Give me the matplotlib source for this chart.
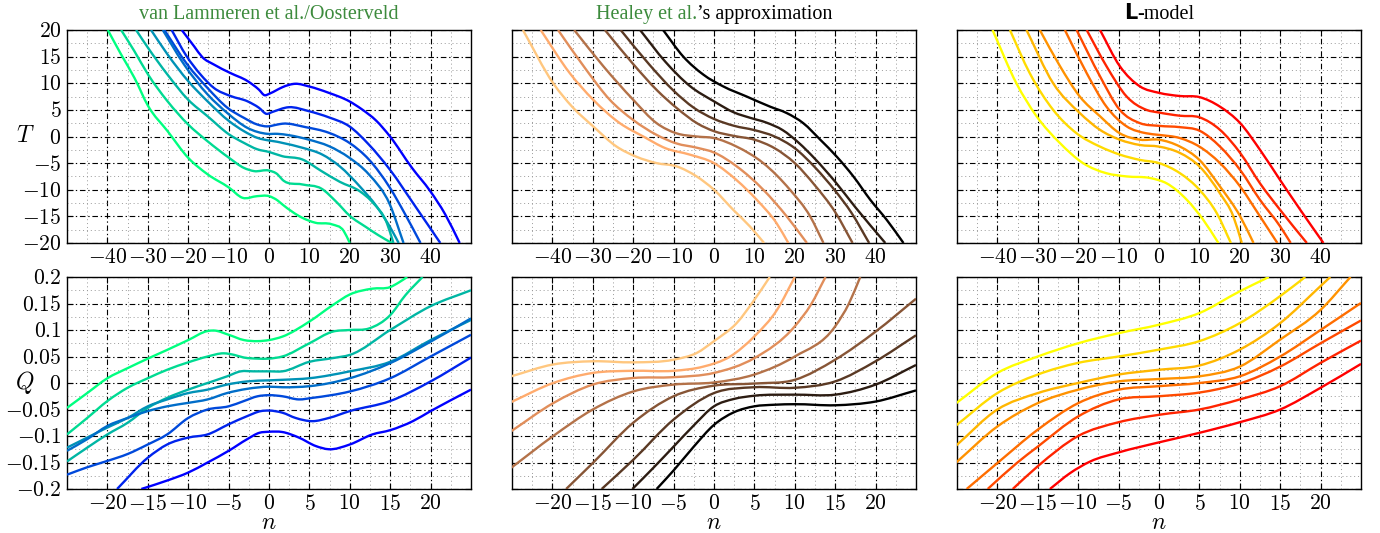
"""Three temperature/charge models side by side: T(n) on top, Q(n) below."""

import matplotlib
matplotlib.use("Agg")
import matplotlib.pyplot as plt
from matplotlib.ticker import FixedLocator, FuncFormatter
from matplotlib.offsetbox import TextArea, HPacker, AnchoredOffsetbox
from matplotlib.path import Path
from matplotlib.patches import PathPatch
import numpy as np

matplotlib.rcParams.update(
    {
        "mathtext.fontset": "cm",
        "font.family": "serif",
        "font.serif": ["Liberation Serif", "DejaVu Serif"],
        "axes.linewidth": 1.0,
    }
)

C_TITLE_GREEN = "#3d8b3d"

# ---------------------------------------------------------------------------
# data: van Lammeren et al./Oosterveld (top: T, bottom: Q)
# ---------------------------------------------------------------------------
vl_T_n = [
    [-21.6, -18.5, -16.5, -13.6, -9.5, -5.3, -2.5, -1.1, 0, 2.1, 3.3, 6.6, 9.9, 14.8, 19.9, 23, 26.5, 29.9, 35.4, 39.9, 43.6, 47.2],
    [-24.1, -20.5, -16.9, -13.6, -9.5, -5.3, -2.5, -0.6, 0.8, 4.9, 9.9, 14.8, 19.9, 24.7, 29.9, 36.2, 42.4],
    [-25.9, -20.2, -15.2, -10.3, -6.2, -2.9, -0.4, 2.1, 3.3, 9.1, 14.8, 19.9, 24.7, 29.9, 33.7, 37.5],
    [-26.3, -21, -15.2, -10.3, -5.3, -0.4, 2.1, 4.9, 9.9, 14.8, 19.9, 24.7, 29.9, 33.3],
    [-29.2, -25.1, -20, -15.2, -9.9, -6.2, -2.9, 0, 2.1, 3.3, 8.2, 13.2, 17.5, 22.5, 26.7, 30.4, 32.1],
    [-32.9, -29.9, -25.1, -20, -15.2, -9.9, -6.2, -2.9, 0, 3.3, 8.2, 13, 17.5, 22.5, 25.8, 29.2, 30.8],
    [-36.6, -33.3, -29.9, -25.1, -20, -15.2, -9.9, -6.2, -3.7, 0, 2.1, 3.3, 8.2, 13, 16.7, 20, 24, 27, 30.4],
    [-39.9, -36.6, -33.3, -29.9, -25.1, -20, -15.2, -9.9, -6.6, -2.9, 0, 2.1, 3.3, 8.2, 11.5, 15.6, 18.5, 20],
]
vl_T = [
    [20, 16.9, 14.9, 13.5, 11.9, 10.4, 8.8, 7.75, 8.0, 8.8, 9.25, 9.9, 9.4, 8.2, 6.6, 5.1, 3, 0.06, -5.9, -10.25, -14.6, -20],
    [20, 15.2, 11.6, 9.1, 7.6, 6.6, 5.4, 4.25, 4.6, 5.5, 4.75, 3.6, 1.9, -1.5, -6.2, -13.1, -20],
    [20, 13.5, 9.1, 5.4, 3.5, 2.25, 1.9, 2.25, 2.4, 1.75, 0.7, -1.2, -4.3, -9.6, -14.6, -20],
    [20, 13.5, 7.9, 4.4, 1.6, 0.5, 0.5, 0.25, -0.6, -1.8, -4, -7.1, -12.75, -20],
    [20, 15.4, 10.4, 6.6, 2.9, 1, -0.25, -0.75, -1, -1.2, -2.1, -3.4, -5.6, -9.4, -13.2, -17.6, -20],
    [20, 16.6, 11.6, 6.9, 3.8, 0.4, -1.2, -2.4, -2.9, -3.7, -4.3, -6.5, -8.5, -10.3, -12.5, -16.3, -20],
    [20, 16, 11.6, 6.6, 2.25, -0.9, -4, -5.9, -6.5, -6.4, -7.1, -8.1, -9, -9.8, -12.3, -14.9, -17, -18.5, -20],
    [20, 15.4, 11, 5.7, 1.0, -4, -7.1, -9.6, -11.5, -11.2, -11.2, -12, -12.75, -15.25, -16.2, -16.5, -17.75, -20],
]
vl_Q_n = [
    [-25, -22.5, -20, -17.5, -15, -12.6, -10, -7.6, -6.8, -5, -3.1, -1.4, 0, 1.65, 5, 7.9, 10, 12.8, 15, 16.1, 17.1],
    [-25, -22.5, -20, -17.5, -15, -12.6, -10, -7.6, -5.6, -4.3, -3.1, -1.4, 0, 1.65, 5, 7.9, 10, 12.4, 15, 16.9, 19],
    [-25, -22.5, -20, -17.5, -15, -12.6, -10, -7.6, -5.2, -3.5, -1.9, 0, 1.65, 5, 7.9, 10, 15, 20, 25],
    [-25, -22.5, -20, -17.5, -15, -12.6, -10, -7.6, -5.2, -2.7, 0, 1.65, 5, 10, 15, 20, 25],
    [-25, -22.5, -20, -17.5, -15, -12.6, -10, -7.6, -5.2, -2.7, 0, 1.65, 5, 10, 15, 20, 25],
    [-25, -22.5, -20, -17.5, -15, -12.6, -10, -7.6, -5, -3.1, -1.4, 0, 1.65, 3.7, 5.4, 10, 15, 20, 25],
    [-18.8, -15, -12.6, -10, -7.6, -5, -2.7, -1, 0, 1.65, 3.3, 5.4, 7.4, 10, 15, 20, 25],
    [-15.8, -12.6, -10, -7.6, -5, -2.7, -1.2, 0, 1.65, 3.7, 5.8, 7.4, 10, 12.8, 15, 17.8, 20, 25],
]
vl_Q = [
    [-0.047, -0.019, 0.009, 0.028, 0.046, 0.0625, 0.081, 0.098, 0.099, 0.091, 0.081, 0.079, 0.081, 0.0875, 0.116, 0.147, 0.167, 0.178, 0.181, 0.19, 0.2],
    [-0.097, -0.066, -0.034, -0.009, 0.009, 0.025, 0.039, 0.05, 0.056, 0.053, 0.048, 0.046, 0.046, 0.05, 0.075, 0.097, 0.1, 0.103, 0.128, 0.166, 0.2],
    [-0.148, -0.122, -0.097, -0.075, -0.047, -0.028, -0.0125, 0, 0.0125, 0.022, 0.022, 0.022, 0.022, 0.04, 0.047, 0.053, 0.1, 0.145, 0.175],
    [-0.122, -0.103, -0.084, -0.066, -0.044, -0.031, -0.019, -0.0125, -0.003, 0.003, 0.005, 0.006, 0.009, 0.022, 0.04, 0.081, 0.119],
    [-0.128, -0.106, -0.081, -0.066, -0.053, -0.044, -0.0375, -0.031, -0.019, -0.011, -0.007, -0.008, -0.006, 0.009, 0.0375, 0.078, 0.122],
    [-0.173, -0.159, -0.147, -0.134, -0.116, -0.097, -0.066, -0.05, -0.044, -0.034, -0.025, -0.023, -0.025, -0.031, -0.028, -0.016, 0.009, 0.05, 0.091],
    [-0.2, -0.141, -0.116, -0.103, -0.097, -0.078, -0.0625, -0.053, -0.052, -0.056, -0.066, -0.072, -0.066, -0.053, -0.034, 0.003, 0.048],
    [-0.2, -0.184, -0.169, -0.15, -0.128, -0.106, -0.094, -0.092, -0.0925, -0.103, -0.119, -0.125, -0.116, -0.097, -0.089, -0.072, -0.053, -0.0125],
]

# ---------------------------------------------------------------------------
# data: Healey et al.'s approximation
# ---------------------------------------------------------------------------
he_T_n = [
    [-12.6, -7.6, -2.6, 2.3, 8.1, 13.9, 18, 22.1, 26.3, 30.4, 34.5, 38.7, 42.8, 46.9],
    [-18.3, -12, -6, 0, 5, 9, 13, 17, 21, 25, 30, 35, 42.4],
    [-23.1, -16, -10, -5, 0, 5, 10, 15, 20, 25, 30, 34, 38.4],
    [-27, -20, -14, -9, -4, 0, 5, 10, 15, 20, 25, 30, 34.3],
    [-34.6, -27.4, -20, -14.2, -9.3, -4.3, 0, 5.6, 12.2, 18.8, 23.8, 27.1],
    [-38.6, -31.6, -25.8, -20, -14.2, -9.3, -4.3, 0, 5.6, 12.2, 18, 23],
    [-42.9, -35.7, -29.9, -23.3, -17.5, -12, -6, 0, 5.6, 10.6, 15.5, 18.4],
    [-47.3, -39.8, -35, -29.9, -24.1, -19.2, -14.2, -9.3, -4.3, 0, 4.8, 8.9, 12.4],
]
he_T = [
    [20, 15, 11.6, 9.4, 7.5, 5.6, 4.4, 2.5, -0.6, -3.8, -7.5, -11.9, -15.7, -20],
    [20, 14, 9.5, 6.6, 4.5, 3.5, 2.6, 1.2, -1.2, -4.2, -8.5, -13.3, -20],
    [20, 13.5, 8.6, 5.4, 3.3, 2, 1.2, 0, -2.2, -5.8, -10.2, -14.3, -20],
    [20, 13.6, 8.6, 5.2, 2.4, 1, 0.1, -0.6, -2.2, -5, -9.2, -14.2, -20],
    [20, 13.2, 6.9, 2.5, 0.6, 0, -0.3, -1.9, -5, -10, -15, -20],
    [20, 12.5, 6.9, 3.1, 0.3, -1.3, -2.1, -3, -5.6, -10, -15, -20],
    [20, 11.9, 6.9, 2.5, 0, -2.2, -3.4, -5, -8.2, -11.9, -16.3, -20],
    [20, 10, 5.5, 1.9, -1.9, -3.8, -5, -5.6, -7.5, -10, -13.8, -16.9, -20],
]
he_Q_n = [
    [-25.1, -19.9, -15, -10, -5, -2.1, 0, 2.8, 5, 6.9],
    [-25.1, -19.9, -15, -10, -5, -1.3, 2, 5, 7.8, 10],
    [-25.1, -19.9, -15, -10, -5, 0, 5, 10, 12, 13.8],
    [-25.1, -19.9, -15, -10, -5, 0, 5, 10, 15, 16.7, 18.1],
    [-18.3, -15, -10, -5, 0, 5, 10, 15, 20, 25],
    [-13.9, -10, -5, 0, 5, 10, 15, 20, 25],
    [-10.1, -7.5, -5, -2.5, 0, 2.5, 5, 10, 15, 20, 25],
    [-7.1, -5, -2.5, 0, 2.5, 5, 7.5, 10, 15, 20, 25],
]
he_Q = [
    [0.0126, 0.035, 0.041, 0.039, 0.044, 0.057, 0.079, 0.113, 0.157, 0.2],
    [-0.036, 0, 0.019, 0.023, 0.023, 0.031, 0.05, 0.088, 0.138, 0.2],
    [-0.091, -0.038, -0.003, 0.0094, 0.011, 0.019, 0.047, 0.107, 0.148, 0.2],
    [-0.16, -0.1, -0.05, -0.016, -0.003, 0.001, 0.016, 0.05, 0.107, 0.15, 0.2],
    [-0.2, -0.151, -0.075, -0.025, -0.005, -0.001, 0.006, 0.044, 0.097, 0.159],
    [-0.2, -0.145, -0.069, -0.019, -0.008, -0.009, 0.003, 0.041, 0.09],
    [-0.2, -0.16, -0.12, -0.08, -0.044, -0.03, -0.024, -0.022, -0.022, -0.003, 0.034],
    [-0.2, -0.165, -0.12, -0.079, -0.055, -0.044, -0.041, -0.04, -0.042, -0.035, -0.014],
]

# ---------------------------------------------------------------------------
# data: L-model
# ---------------------------------------------------------------------------
lm_T_n = [
    [-14.6, -9.7, -4.7, 0, 5.2, 10, 15.1, 20.1, 25, 30, 35, 40.7],
    [-17.9, -13, -8, -3.1, 0, 5.2, 10, 15.1, 20.1, 25, 30, 36.6],
    [-20.4, -14.6, -9.7, -4.7, 0, 5.2, 10, 15.1, 20.1, 25, 30, 32.6],
    [-23.3, -17.9, -13, -8, -3.1, 0, 5.2, 10, 15.1, 20.1, 25, 29.3],
    [-29.5, -24.5, -19.6, -14.6, -9.7, -4.7, 0, 5.2, 10, 15.1, 20.1, 23.4],
    [-32.8, -26.2, -19.6, -14.6, -9.7, -4.7, 0, 5.2, 10, 15.1, 18.4, 20.5],
    [-36.9, -32, -26.2, -20.4, -14.6, -9.7, -4.7, 0, 5.2, 10, 14.3, 17.8],
    [-41.2, -35.3, -30.3, -24.5, -18.8, -13, -8, -2.2, 1.9, 6.9, 11, 14.7],
]
lm_T = [
    [20, 13.2, 9.4, 8.2, 7.6, 7.4, 5.6, 2.5, -2.5, -8.2, -13.8, -20],
    [20, 13.2, 7.5, 5, 4.5, 3.9, 3.6, 1.25, -3.1, -8.8, -13.8, -20],
    [20, 11.3, 5, 2.5, 2, 1.75, 1.1, -1.9, -6.3, -11.9, -16.9, -20],
    [20, 11.9, 5.6, 1.9, 0.6, 0.3, -0.3, -1.9, -5, -9.4, -15, -20],
    [20, 13.2, 7.5, 3.8, 0.6, -0.6, -0.6, -1.9, -4.4, -9.4, -15, -20],
    [20, 10, 4.4, 1.25, -0.6, -1.6, -1.9, -3.1, -5.6, -10.7, -15, -20],
    [20, 11.9, 5, 0.6, -1.9, -3.4, -4.4, -5, -6.9, -10, -14.4, -20],
    [20, 10, 3.8, -1.25, -5, -6.9, -7.5, -7.8, -8.8, -11.9, -15.7, -20],
]
lm_Q_n = [
    [-25.1, -20, -15, -10, -5, 0, 5, 10, 13.6],
    [-25.1, -20, -15, -10, -5, 0, 5, 10, 15, 18.1],
    [-25.1, -20, -15, -10, -5, 0, 5, 10, 15, 20, 21.2],
    [-25.1, -20, -15, -10, -5, 0, 5, 10, 15, 20, 23.7],
    [-23.8, -20, -15, -10, -5, 0, 5, 10, 15, 20, 25],
    [-21.2, -17.6, -15, -10, -5, 0, 5, 10, 15, 20, 25],
    [-18.1, -15, -10, -5, 0, 5, 10, 15, 20, 25],
    [-13.5, -11, -8.5, -5, 0, 5, 10, 15, 20, 25],
]
lm_Q = [
    [-0.038, 0.019, 0.05, 0.075, 0.094, 0.11, 0.132, 0.173, 0.2],
    [-0.08, -0.019, 0.016, 0.038, 0.05, 0.063, 0.079, 0.113, 0.164, 0.2],
    [-0.118, -0.05, -0.019, 0, 0.016, 0.025, 0.033, 0.063, 0.113, 0.183, 0.2],
    [-0.15, -0.082, -0.038, -0.0126, 0.003, 0.0075, 0.0126, 0.031, 0.082, 0.138, 0.2],
    [-0.2, -0.151, -0.088, -0.038, -0.0126, -0.006, 0, 0.0126, 0.05, 0.1, 0.151],
    [-0.2, -0.151, -0.12, -0.063, -0.031, -0.025, -0.018, -0.001, 0.031, 0.075, 0.118],
    [-0.2, -0.157, -0.1, -0.074, -0.06, -0.05, -0.031, -0.006, 0.038, 0.08],
    [-0.2, -0.17, -0.148, -0.131, -0.112, -0.094, -0.074, -0.05, -0.009, 0.036],
]

T_TICKS_X = [-40, -30, -20, -10, 0, 10, 20, 30, 40]
T_TICKS_Y = [-20, -15, -10, -5, 0, 5, 10, 15, 20]
Q_TICKS_X = [-20, -15, -10, -5, 0, 5, 10, 15, 20]
Q_TICKS_Y = [-0.2, -0.15, -0.1, -0.05, 0, 0.05, 0.1, 0.15, 0.2]


def _fmt(v, _pos):
    v = round(v, 3) + 0.0
    return f"${v:g}$"


def style_axes(ax, xlim, ylim, xt, yt, show_y):
    ax.set_xlim(*xlim)
    ax.set_ylim(*ylim)
    ax.set_xticks(xt)
    ax.set_yticks(yt)
    dx = (xt[1] - xt[0]) / 2
    dy = (yt[1] - yt[0]) / 2
    ax.xaxis.set_minor_locator(FixedLocator([t + dx for t in [xt[0] - 2 * dx] + list(xt)]))
    ax.yaxis.set_minor_locator(FixedLocator([t + dy for t in yt[:-1]]))
    ax.xaxis.set_major_formatter(FuncFormatter(_fmt))
    ax.yaxis.set_major_formatter(FuncFormatter(_fmt))
    ax.grid(True, which="major", color="black", linestyle=(0, (5, 2.5, 1.2, 2.5)), linewidth=0.8)
    ax.grid(True, which="minor", color="#9a9a9a", linestyle=(0, (1, 3)), linewidth=0.7)
    ax.set_axisbelow(True)
    ax.tick_params(which="both", direction="in", top=True, right=True, labelsize=15.5, pad=4)
    ax.tick_params(which="major", length=4)
    ax.tick_params(which="minor", length=0)
    ax.tick_params(axis="y", labelleft=show_y)


def smooth_path(n, v):
    """Cubic Bezier path through the read points (Hermite in n)."""
    x = np.asarray(n, float)
    y = np.asarray(v, float)
    h = np.diff(x)
    s = np.diff(y) / h
    m = np.empty_like(y)
    m[0], m[-1] = s[0], s[-1]
    m[1:-1] = (s[:-1] * h[1:] + s[1:] * h[:-1]) / (h[:-1] + h[1:])
    verts = [(x[0], y[0])]
    codes = [Path.MOVETO]
    for i in range(len(h)):
        verts += [
            (x[i] + h[i] / 3, y[i] + m[i] * h[i] / 3),
            (x[i + 1] - h[i] / 3, y[i + 1] - m[i + 1] * h[i] / 3),
            (x[i + 1], y[i + 1]),
        ]
        codes += [Path.CURVE4] * 3
    return Path(verts, codes)


def draw_curves(ax, ns, vals, colors):
    for n, v, c in zip(ns, vals, colors):
        ax.add_patch(PathPatch(smooth_path(n, v), facecolor="none", edgecolor=c,
                               linewidth=1.7, capstyle="butt", zorder=3))


def mixed_title(ax, parts):
    boxes = [TextArea(s, textprops=props) for s, props in parts]
    pack = HPacker(children=boxes, align="baseline", pad=0, sep=0)
    box = AnchoredOffsetbox(
        loc="lower center", child=pack, pad=0, borderpad=0, frameon=False,
        bbox_to_anchor=(0.5, 1.03), bbox_transform=ax.transAxes,
    )
    ax.add_artist(box)


fig = plt.figure(figsize=(13.8, 5.33), dpi=100)

lefts = [67 / 1380, 512 / 1380, 957 / 1380]
w = 404 / 1380
top_row = [fig.add_axes([l, 1 - 243 / 533, w, 213 / 533]) for l in lefts]
bot_row = [fig.add_axes([l, 1 - 489 / 533, w, 212 / 533]) for l in lefts]

k = np.linspace(0, 1, 8)
winter = plt.cm.winter(k)
copper = plt.cm.copper(k)
autumn = plt.cm.autumn(k)

draw_curves(top_row[0], vl_T_n, vl_T, winter)
draw_curves(bot_row[0], vl_Q_n, vl_Q, winter[::-1])
draw_curves(top_row[1], he_T_n, he_T, copper)
draw_curves(bot_row[1], he_Q_n, he_Q, copper[::-1])
draw_curves(top_row[2], lm_T_n, lm_T, autumn)
draw_curves(bot_row[2], lm_Q_n, lm_Q, autumn[::-1])

for i, ax in enumerate(top_row):
    style_axes(ax, (-50, 50), (-20, 20), T_TICKS_X, T_TICKS_Y, i == 0)
for i, ax in enumerate(bot_row):
    style_axes(ax, (-25, 25), (-0.2, 0.2), Q_TICKS_X, Q_TICKS_Y, i == 0)
    ax.set_xlabel("$n$", fontsize=17)
    ax.xaxis.set_label_coords(0.5, -0.165)
    ax.xaxis.label.set_va("center")

for ax, lab in ((top_row[0], "$T$"), (bot_row[0], "$Q$")):
    ax.set_ylabel(lab, fontsize=17, rotation=0, ha="center", va="center")
    ax.yaxis.set_label_coords(-0.104, 0.5)

serif = dict(fontsize=14.5, family="Liberation Serif")
mixed_title(top_row[0], [("van Lammeren et al./Oosterveld", dict(serif, color=C_TITLE_GREEN))])
mixed_title(top_row[1], [("Healey et al.", dict(serif, color=C_TITLE_GREEN)),
                         ("\u2019s approximation", dict(serif, color="black"))])
mixed_title(top_row[2], [("L", dict(fontsize=15, family="DejaVu Sans", fontweight="bold", color="black")),
                         ("-model", dict(serif, color="black"))])

fig.savefig("out.png", dpi=100)
